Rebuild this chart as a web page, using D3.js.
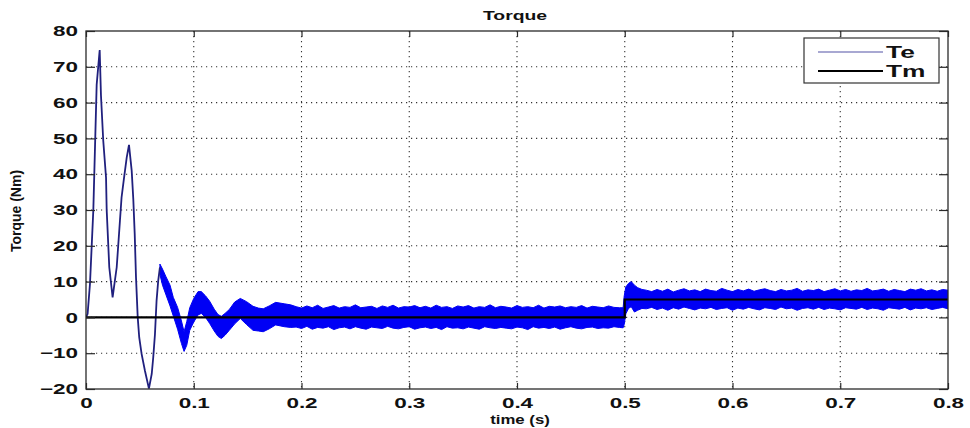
<!DOCTYPE html>
<html>
<head>
<meta charset="utf-8">
<script src="https://cdn.jsdelivr.net/npm/d3@7"></script>
<style>
  body { margin: 0; background: #fff; }
  svg { display: block; }
</style>
</head>
<body>
<div id="chart"></div>
<script>
// Te during the first swings (thin line part)
const teLineTime = [0, 0.0015, 0.0037, 0.0068, 0.0099, 0.0127, 0.0139, 0.016, 0.0186, 0.0192,
    0.0216, 0.0247, 0.0285, 0.0315, 0.033, 0.0353, 0.0378, 0.0399, 0.0424, 0.0439,
    0.0452, 0.0464, 0.048, 0.0494, 0.0516, 0.0547, 0.0584, 0.061, 0.0624, 0.064,
    0.0655, 0.067, 0.0686];
const teLineValue = [0, 1, 9.4, 30, 65, 74.7, 62, 49.4, 39, 30,
    14, 5.6, 14, 27, 33.5, 39, 44.7, 48.2, 41, 33,
    23.4, 11.2, 0, -5.6, -10.2, -14.9, -19.9, -15.8, -11.2, -4.7,
    4.7, 10.2, 14];

// Te ripple band (upper / lower envelope)
const bandTime = [
    0.0686, 0.071, 0.074, 0.078, 0.081, 0.085, 0.0886, 0.091, 0.0935, 0.0963,
    0.1, 0.104, 0.107, 0.111, 0.1148, 0.119, 0.1225, 0.1256, 0.129, 0.133,
    0.138, 0.1432, 0.149, 0.155, 0.16, 0.1645, 0.17, 0.176, 0.184, 0.19,
    0.195, 0.2, 0.205, 0.21, 0.215, 0.22, 0.225, 0.23, 0.235, 0.24,
    0.245, 0.25, 0.255, 0.26, 0.265, 0.27, 0.275, 0.28, 0.285, 0.29,
    0.295, 0.3, 0.305, 0.31, 0.315, 0.32, 0.325, 0.33, 0.335, 0.34,
    0.345, 0.35, 0.355, 0.36, 0.365, 0.37, 0.375, 0.38, 0.385, 0.39,
    0.395, 0.4, 0.405, 0.41, 0.415, 0.42, 0.425, 0.43, 0.435, 0.44,
    0.445, 0.45, 0.455, 0.46, 0.465, 0.47, 0.475, 0.48, 0.485, 0.49,
    0.495,
    0.4985, 0.4995, 0.501, 0.5035, 0.506, 0.509, 0.512, 0.516,
    0.52, 0.525, 0.53, 0.535, 0.54, 0.545, 0.55, 0.555, 0.56, 0.565,
    0.57, 0.575, 0.58, 0.585, 0.59, 0.595, 0.6, 0.605, 0.61, 0.615,
    0.62, 0.625, 0.63, 0.635, 0.64, 0.645, 0.65, 0.655, 0.66, 0.665,
    0.67, 0.675, 0.68, 0.685, 0.69, 0.695, 0.7, 0.705, 0.71, 0.715,
    0.72, 0.725, 0.73, 0.735, 0.74, 0.745, 0.75, 0.755, 0.76, 0.765,
    0.77, 0.775, 0.78, 0.785, 0.79, 0.795, 0.8];
const bandHigh = [
    14.9, 13.5, 11.5, 9, 5.6, 2.8, -1, -4, -1.2, 2.7,
    5.3, 7.2, 7.2, 6, 4.5, 2.3, 0.8, 0.3, 1.1, 2.2,
    4.3, 5.3, 4.4, 3.1, 2.6, 2.4, 3.2, 4.2, 3.8, 3.5,
    3.0, 2.6, 3.2, 2.7, 3.4, 2.5, 2.9, 3.3, 2.6, 3.0,
    2.8, 3.5, 2.7, 2.9, 3.1, 2.5, 3.2, 2.8, 3.4, 2.6,
    3.0, 2.9, 3.3, 2.7, 3.1, 2.6, 3.4, 2.8, 3.0, 2.5,
    3.2, 2.9, 3.3, 2.6, 3.0, 2.8, 3.5, 2.7, 3.1, 2.9,
    2.6, 3.3, 2.8, 3.0, 2.7, 3.4, 2.6, 3.1, 2.9, 3.2,
    2.7, 3.0, 2.8, 3.3, 2.6, 3.1, 2.9, 2.7, 3.2, 2.8,
    2.7,
    2.7, 6, 8.5, 9.5, 10, 9, 8.3, 7.8,
    7.6, 7.2, 7.8, 7.3, 7.9, 7.1, 7.6, 8.0, 7.4, 7.7,
    7.2, 7.9, 7.5, 7.3, 8.1, 7.6, 7.2, 7.8, 7.4, 7.9,
    7.3, 7.7, 8.0, 7.5, 7.2, 7.8, 7.4, 7.6, 8.1, 7.3,
    7.7, 7.5, 7.9, 7.2, 7.6, 8.0, 7.4, 7.8, 7.3, 7.7,
    7.5, 8.1, 7.4, 7.6, 7.9, 7.3, 7.8, 7.5, 7.2, 7.9,
    7.6, 8.0, 7.4, 7.7, 7.3, 7.8, 7.6];
const bandLow = [
    12, 9, 6.5, 3.2, 0.4, -3.3, -7.3, -9.5, -7.8, -3.6,
    -1.3, 0.7, 1.1, 0, -1.7, -3.8, -5.3, -5.9, -5, -3.6,
    -1.8, -0.3, -2, -3.6, -3.8, -4, -3.2, -2.1, -2.6, -2.8,
    -2.7, -3.1, -2.5, -3.3, -2.8, -3.0, -2.6, -3.4, -2.9, -2.7,
    -3.2, -2.6, -3.0, -3.3, -2.7, -2.9, -3.1, -2.5, -3.0, -3.2,
    -2.8, -2.6, -3.3, -2.9, -2.7, -3.1, -2.8, -3.4, -2.6, -3.0,
    -2.9, -3.2, -2.7, -3.0, -3.3, -2.6, -2.9, -3.1, -2.8, -3.0,
    -3.2, -2.7, -2.9, -3.4, -2.6, -3.0, -2.8, -3.1, -2.7, -3.3,
    -2.9, -2.6, -3.0, -3.2, -2.8, -2.7, -3.1, -2.9, -3.0, -2.6,
    -2.8,
    -2.9, -2, 1, 2.5, 3, 1.5, 2, 2.5,
    2.4, 2.8, 2.2, 2.6, 2.0, 2.7, 2.3, 2.9, 2.5, 2.1,
    2.6, 2.4, 2.8, 2.2, 2.5, 2.7, 2.0, 2.6, 2.3, 2.8,
    2.4, 2.1, 2.7, 2.5, 2.2, 2.9, 2.4, 2.6, 2.0, 2.5,
    2.7, 2.3, 2.8, 2.2, 2.6, 2.4, 2.1, 2.7, 2.5, 2.3,
    2.8, 2.2, 2.6, 2.4, 2.0, 2.7, 2.5, 2.3, 2.8, 2.1,
    2.6, 2.4, 2.7, 2.2, 2.5, 2.8, 2.4];

// load torque Tm (step at 0.5 s)
const tmTime = [0, 0.5, 0.5, 0.8];
const tmValue = [0, 0, 5, 5];

const xTicks = [0, 0.1, 0.2, 0.3, 0.4, 0.5, 0.6, 0.7, 0.8];
const yTicks = [-20, -10, 0, 10, 20, 30, 40, 50, 60, 70, 80];
const seriesNames = ["Te", "Tm"];

// set the dimensions and margins of the graph
let margin = {top: 31, right: 22, bottom: 39, left: 86},
    width = 970 - margin.left - margin.right,
    height = 428 - margin.top - margin.bottom;
const stretch = 1.55;   // the picture's text is wide, stretch glyphs sideways

let svg = d3.select("#chart")
  .append("svg")
    .attr("width", 970)
    .attr("height", 428)
    .style("font-family", "'Liberation Sans', Arial, Helvetica, sans-serif");

let g = svg.append("g")
    .attr("transform", "translate(" + margin.left + "," + margin.top + ")");

// Scales
let x = d3.scaleLinear().domain([0, 0.8]).range([0, width]);
let y = d3.scaleLinear().domain([-20, 80]).range([height, 0]);

// dotted grid
g.append("g")
  .selectAll("line")
  .data(xTicks.slice(1, -1))
  .enter()
  .append("line")
    .attr("x1", d => x(d)).attr("x2", d => x(d))
    .attr("y1", 0).attr("y2", height)
    .attr("stroke", "#333")
    .attr("stroke-width", 1.1)
    .attr("stroke-dasharray", "1.2,3.8");
g.append("g")
  .selectAll("line")
  .data(yTicks.slice(1, -1))
  .enter()
  .append("line")
    .attr("x1", 0).attr("x2", width)
    .attr("y1", d => y(d)).attr("y2", d => y(d))
    .attr("stroke", "#333")
    .attr("stroke-width", 1.1)
    .attr("stroke-dasharray", "1.2,3.8");

// clip for the traces
svg.append("defs").append("clipPath").attr("id", "plotclip")
  .append("rect").attr("width", width).attr("height", height);
let plot = g.append("g").attr("clip-path", "url(#plotclip)");

// Te ripple band
let bandData = bandTime.map((t, i) => ({t: t, hi: bandHigh[i], lo: bandLow[i]}));
plot.append("path")
    .datum(bandData)
    .attr("fill", "#0000f5")
    .attr("stroke", "#0000f5")
    .attr("stroke-width", 1)
    .attr("d", d3.area()
        .x(d => x(d.t))
        .y0(d => y(d.lo))
        .y1(d => y(d.hi)));

// Te first swings
let teData = teLineTime.map((t, i) => ({t: t, v: teLineValue[i]}));
plot.append("path")
    .datum(teData)
    .attr("fill", "none")
    .attr("stroke", "#20207e")
    .attr("stroke-width", 1.8)
    .attr("d", d3.line().x(d => x(d.t)).y(d => y(d.v)));

// Tm
let tmData = tmTime.map((t, i) => ({t: t, v: tmValue[i]}));
plot.append("path")
    .datum(tmData)
    .attr("fill", "none")
    .attr("stroke", "#000")
    .attr("stroke-width", 2.2)
    .attr("d", d3.line().x(d => x(d.t)).y(d => y(d.v)));

// axes, ticks pointing inwards like matlab
let fmt = d => d === 0 ? "0" : d3.format(".1f")(d);
let xAxis = g.append("g")
    .attr("transform", "translate(0," + height + ")")
    .call(d3.axisBottom(x).tickValues(xTicks).tickFormat(fmt).tickSizeInner(-6).tickSizeOuter(0).tickPadding(9));
g.append("g")
    .call(d3.axisTop(x).tickValues(xTicks).tickFormat("").tickSizeInner(-6).tickSizeOuter(0));
let yAxis = g.append("g")
    .call(d3.axisLeft(y).tickValues(yTicks).tickFormat(d3.format("d")).tickSizeInner(-9).tickSizeOuter(0).tickPadding(8));
g.append("g")
    .attr("transform", "translate(" + width + ",0)")
    .call(d3.axisRight(y).tickValues(yTicks).tickFormat("").tickSizeInner(-9).tickSizeOuter(0));

g.selectAll(".domain").remove();
g.selectAll(".tick line").attr("stroke", "#2a2a2a").attr("stroke-width", 1.2);

xAxis.selectAll("text")
    .attr("fill", "#111")
    .style("font-size", "14.5px")
    .style("font-weight", "bold")
    .attr("transform", "scale(" + stretch + ",1)");
yAxis.selectAll("text")
    .attr("fill", "#111")
    .style("font-size", "14.5px")
    .style("font-weight", "bold")
    .attr("x", -8 / stretch)
    .attr("transform", "scale(" + stretch + ",1)");

// box
g.append("rect")
    .attr("width", width)
    .attr("height", height)
    .attr("fill", "none")
    .attr("stroke", "#2a2a2a")
    .attr("stroke-width", 1.3);

// title and axis labels
svg.append("text")
    .attr("text-anchor", "middle")
    .attr("transform", "translate(" + (margin.left + width / 2 - 2) + ",20) scale(" + stretch + ",1)")
    .style("font-size", "12.5px")
    .style("font-weight", "bold")
    .attr("fill", "#111")
    .text("Torque");

svg.append("text")
    .attr("text-anchor", "middle")
    .attr("transform", "translate(" + (margin.left + width / 2 + 3) + ",424) scale(1.4,1)")
    .style("font-size", "12px")
    .style("font-weight", "bold")
    .attr("fill", "#111")
    .text("time (s)");

svg.append("text")
    .attr("text-anchor", "middle")
    .attr("transform", "translate(21," + (margin.top + height / 2 + 1) + ") rotate(-90)")
    .style("font-size", "14px")
    .style("font-weight", "bold")
    .attr("fill", "#111")
    .text("Torque (Nm)");

// legend
let legend = svg.append("g").attr("transform", "translate(804,38)");
legend.append("rect")
    .attr("width", 135)
    .attr("height", 45)
    .attr("fill", "#fff")
    .attr("stroke", "#333")
    .attr("stroke-width", 1.2);
let legendColors = ["#5252a6", "#000"];
let legendWidths = [1.2, 2.2];
let item = legend.selectAll("g.item")
  .data(seriesNames)
  .enter()
  .append("g")
    .attr("class", "item")
    .attr("transform", (d, i) => "translate(0," + (14 + i * 19) + ")");
item.append("line")
    .attr("x1", 14).attr("x2", 79)
    .attr("stroke", (d, i) => legendColors[i])
    .attr("stroke-width", (d, i) => legendWidths[i]);
item.append("text")
    .attr("transform", "translate(82,5.5) scale(1.55,1)")
    .style("font-size", "17px")
    .style("font-weight", "bold")
    .attr("fill", "#111")
    .text(d => d);
</script>
</body>
</html>
